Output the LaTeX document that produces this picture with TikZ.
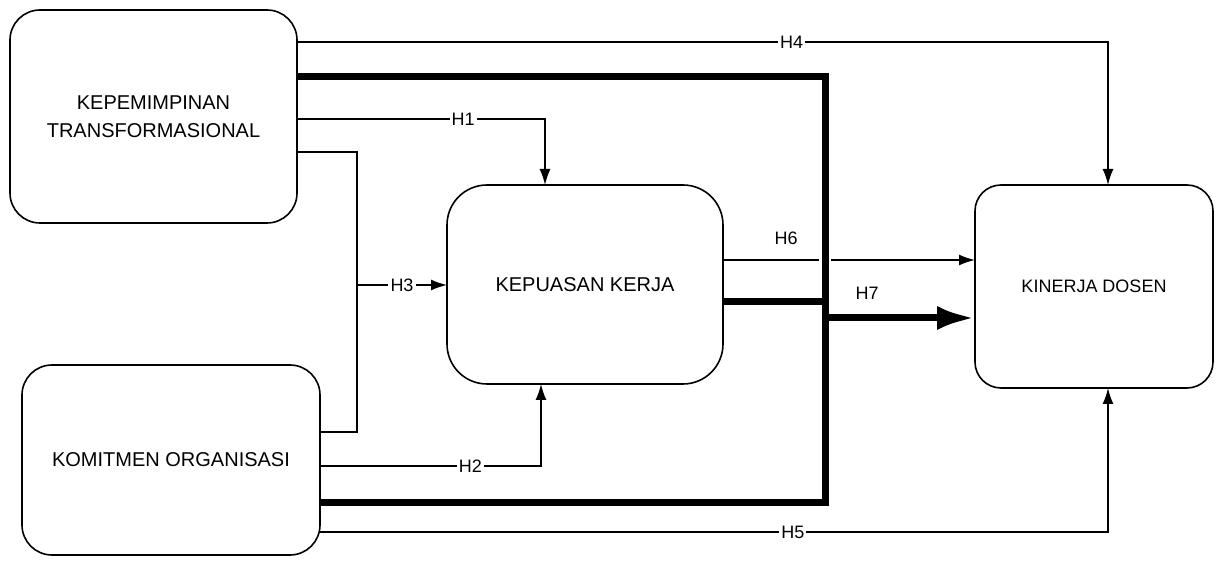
\documentclass[tikz,border=0pt]{standalone}
\usepackage{fontspec}
\setmainfont{Liberation Sans}
\usepackage{tikz}
\usetikzlibrary{arrows.meta,calc,positioning}

\begin{document}
\begin{tikzpicture}[x=0.5pt, y=-0.5pt,
    varbox/.style={draw, line width=0.8pt, rounded corners=15pt, inner sep=0pt,
      outer sep=0pt, align=center, font=\fontsize{10}{14}\selectfont},
    hlabel/.style={fill=white, inner sep=1pt, font=\fontsize{9}{10}\selectfont},
    link/.style={line width=0.8pt},
    heavy/.style={line width=3.5pt}]
      % Page frame
      \useasboundingbox (0,0) rectangle (1221,571);
      % Define the variables
      \node[varbox, minimum width=143.5pt, minimum height=106.5pt] (kt) at (153.5,116.5)
        {KEPEMIMPINAN\\TRANSFORMASIONAL};
      \node[varbox, minimum width=149pt, minimum height=95pt] (ko) at (171,460)
        {KOMITMEN ORGANISASI};
      \node[varbox, rounded corners=20pt, minimum width=138pt, minimum height=99.5pt] (kk) at (585,284.5)
        {KEPUASAN KERJA};
      \node[varbox, rounded corners=13pt, minimum width=119pt, minimum height=101.5pt,
        font=\fontsize{9}{11}\selectfont] (kd) at (1094,286.5)
        {KINERJA DOSEN};
      % Define coordinates
      \coordinate (c4) at (1108,42);
      \coordinate (c1) at (545,119);
      \coordinate (c3a) at (357,152);
      \coordinate (c3b) at (357,432);
      \coordinate (c3) at (357,285);
      \coordinate (c2) at (541,466);
      \coordinate (c5) at (1108,532);
      \coordinate (c6) at (723,260);
      \coordinate (t1) at (825,77);
      \coordinate (t2) at (825,503);
      \coordinate (t7) at (825,302);
      \coordinate (t8) at (825,318);
      % Direct paths
      \draw[link, -{Latex[length=8pt,width=5.5pt]}] (kt.east |- c4) -- node[hlabel, pos=0.61] {H4} (c4) -- (c4 |- kd.north);
      \draw[link, -{Latex[length=8pt,width=5.5pt]}] (kt.east |- c1) -- node[hlabel, pos=0.67] {H1} (c1) -- (c1 |- kk.north);
      \draw[link, -{Latex[length=8pt,width=5.5pt]}] (ko.east |- c2) -- node[hlabel, pos=0.68] {H2} (c2) -- (c2 |- kk.south);
      \draw[link, -{Latex[length=8pt,width=5.5pt]}] (ko.east |- c5) -- node[hlabel, pos=0.6] {H5} (c5) -- (c5 |- kd.south);
      \draw[link, -{Latex[length=8pt,width=5.5pt]}] (kk.east |- c6) -- node[above=4pt, pos=0.25, font=\fontsize{9}{10}\selectfont] {H6} (kd.west |- c6);
      % Joint path H3
      \draw[link] (kt.east |- c3a) -- (c3a) -- (c3b) -- (ko.east |- c3b);
      \draw[link, -{Latex[length=8pt,width=5.5pt]}] (c3) -- node[hlabel] {H3} (kk.west |- c3);
      % Mediated path H7
      \draw[white, line width=6pt] (t1) -- (t2);
      \draw[heavy] (kt.east |- t1) -- (t1) -- (t2) -- (ko.east |- t2);
      \draw[heavy] (kk.east |- t7) -- (t7);
      \draw[heavy, -{Latex[length=19pt,width=12pt]}] (t8) -- node[above=4pt, pos=0.28, font=\fontsize{9}{10}\selectfont] {H7} (kd.west |- t8);
    \end{tikzpicture}
\end{document}
